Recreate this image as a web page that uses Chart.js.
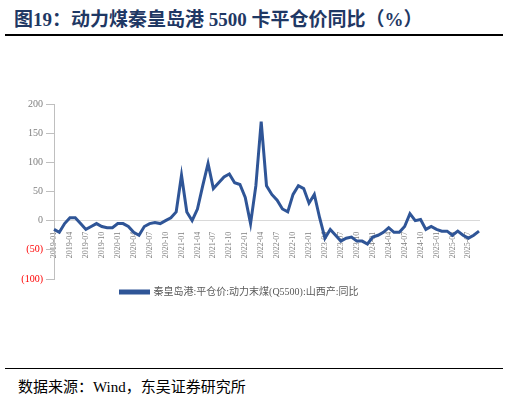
<!DOCTYPE html><html><head><meta charset="utf-8">
<script src="https://cdn.jsdelivr.net/npm/chart.js@4"></script>
<style>body{margin:0;width:509px;height:402px;background:#fff;position:relative;overflow:hidden;font-family:"Liberation Serif","Noto Sans CJK SC",serif}
#t{position:absolute;left:14px;top:4px;font-size:19px;font-weight:bold;color:#1f3864;font-family:"Liberation Serif","Noto Sans CJK SC",serif}
#l1{position:absolute;left:5px;top:34px;width:498px;height:2px;background:#000}
#l2{position:absolute;left:5px;top:368px;width:498px;height:1px;background:#000}
#s{position:absolute;left:18px;top:375px;font-size:15px;color:#000}
#c{position:absolute;left:0;top:95px}</style></head><body>
<div id="t">图19：动力煤秦皇岛港 5500 卡平仓价同比（%）</div><div id="l1"></div>
<div id="c"><canvas id="cv" width="509" height="212" style="width:509px;height:212px"></canvas></div>
<div id="l2"></div><div id="s">数据来源：Wind，东吴证券研究所</div>
<script>
const months=[];for(let y=2019;y<=2025;y++)for(let m=1;m<=12;m++){if(y===2025&&m>9)break;months.push(y+'-'+String(m).padStart(2,'0'));}
const values=[-15,-20,-5,5,5,-5,-15,-10,-5,-10,-12,-12,
-5,-5,-10,-20,-25,-10,-5,-3,-5,0,5,15,
78,15,0,20,60,98,55,65,75,80,65,62,
40,-5,60,170,60,45,35,20,15,45,60,55,
30,45,5,-30,-15,-25,-35,-30,-28,-35,-35,-40,
-28,-25,-20,-12,-20,-20,-10,12,0,2,-15,-10,-15,
-18,-18,-25,-18,-25,-30,-25,-18,-22];
const seriesName='秦皇岛港:平仓价:动力末煤(Q5500):山西产:同比';
const yTicks=[200,150,100,50,0,-50,-100];
new Chart(document.getElementById('cv'),{type:'line',
data:{labels:months.slice(0,values.length),datasets:[{label:seriesName,data:values,borderColor:'#2f5597',borderWidth:3,pointRadius:0,tension:0}]},
options:{responsive:false,animation:false,layout:{padding:{top:6,right:30,left:0,bottom:0}},
plugins:{legend:{position:'bottom',labels:{boxWidth:28,boxHeight:2,padding:8,color:'#595959',font:{size:10,family:'Liberation Serif, Noto Sans CJK SC'}}},tooltip:{enabled:false}},
scales:{x:{position:{y:0},grid:{display:false},border:{color:'#d9d9d9'},ticks:{autoSkip:false,maxRotation:90,minRotation:90,color:'#7f7f7f',font:{size:8,family:'Liberation Serif'},callback:function(v,i){return i%3===0?this.getLabelForValue(v):null;}}},
y:{min:-100,max:200,afterBuildTicks:a=>{a.ticks=yTicks.map(v=>({value:v}));},afterFit:a=>{a.width=54;},grid:{display:true,drawOnChartArea:false,color:'#bfbfbf'},border:{color:'#bfbfbf'},
ticks:{color:c=>c.tick&&c.tick.value<0?'#ff0000':'#7f7f7f',font:{size:10,family:'Liberation Serif'},callback:v=>v<0?'('+(-v)+')':v}}}}});
</script></body></html>
